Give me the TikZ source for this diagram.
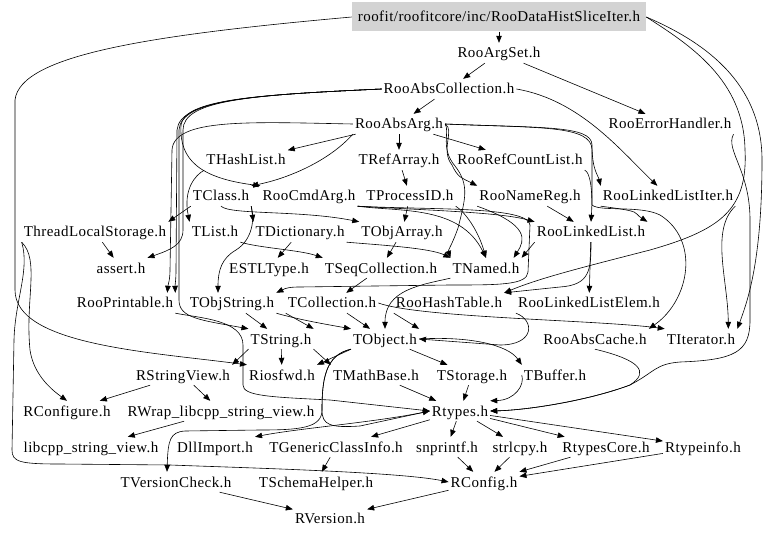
\documentclass[tikz,border=0pt]{standalone}
\usepackage{fontspec}
\setmainfont{Liberation Serif}[LetterSpace=3.0]
\usetikzlibrary{arrows.meta}
\definecolor{rootfill}{HTML}{D3D3D3}
\begin{document}
\begin{tikzpicture}[x=1pt,y=-1pt,
  lbl/.style={inner xsep=2pt, inner ysep=3pt, text height=12pt, text depth=2pt, font=\fontsize{15}{18}\selectfont},
  rootbox/.style={lbl, fill=rootfill, inner xsep=6pt, inner ysep=7.5pt},
  edg/.style={draw, line width=0.6pt, -{Triangle[length=7pt,width=5.5pt]}}]
\useasboundingbox (0,0) rectangle (768,537);
\fill[white] (0,0) rectangle (768,537);
% nodes
\node[rootbox] (root) at (499,17) {roofit/roofitcore/inc/RooDataHistSliceIter.h};
\node[lbl] (argset) at (499,53) {RooArgSet.h};
\node[lbl] (abscoll) at (449,89) {RooAbsCollection.h};
\node[lbl] (absarg) at (399,124) {RooAbsArg.h};
\node[lbl] (errh) at (670,124) {RooErrorHandler.h};
\node[lbl] (hashlist) at (246,160) {THashList.h};
\node[lbl] (refarray) at (399,160) {TRefArray.h};
\node[lbl] (refcount) at (520,160) {RooRefCountList.h};
\node[lbl] (tclass) at (221,196) {TClass.h};
\node[lbl] (cmdarg) at (309,196) {RooCmdArg.h};
\node[lbl] (procid) at (410,196) {TProcessID.h};
\node[lbl] (namereg) at (530,196) {RooNameReg.h};
\node[lbl] (llistiter) at (668,196) {RooLinkedListIter.h};
\node[lbl] (tls) at (95,232) {ThreadLocalStorage.h};
\node[lbl] (tlist) at (215,232) {TList.h};
\node[lbl] (tdict) at (300,232) {TDictionary.h};
\node[lbl] (objarray) at (402,232) {TObjArray.h};
\node[lbl] (llist) at (591,232) {RooLinkedList.h};
\node[lbl] (assert) at (121,268) {assert.h};
\node[lbl] (estl) at (269,268) {ESTLType.h};
\node[lbl] (seqcoll) at (381,268) {TSeqCollection.h};
\node[lbl] (tnamed) at (486,268) {TNamed.h};
\node[lbl] (printable) at (125,303) {RooPrintable.h};
\node[lbl] (objstring) at (232,303) {TObjString.h};
\node[lbl] (tcoll) at (332,303) {TCollection.h};
\node[lbl] (hashtable) at (449,303) {RooHashTable.h};
\node[lbl] (llelem) at (589,303) {RooLinkedListElem.h};
\node[lbl] (tstring) at (281,339) {TString.h};
\node[lbl] (tobject) at (385,339) {TObject.h};
\node[lbl] (abscache) at (595,339) {RooAbsCache.h};
\node[lbl] (titer) at (701,339) {TIterator.h};
\node[lbl] (rsv) at (183,375) {RStringView.h};
\node[lbl] (riosfwd) at (282,375) {Riosfwd.h};
\node[lbl] (mathbase) at (376,375) {TMathBase.h};
\node[lbl] (storage) at (472,375) {TStorage.h};
\node[lbl] (buffer) at (555,375) {TBuffer.h};
\node[lbl] (rconfigure) at (67,411) {RConfigure.h};
\node[lbl] (rwrap) at (221,411) {RWrap\_libcpp\_string\_view.h};
\node[lbl] (rtypes) at (460,411) {Rtypes.h};
\node[lbl] (libcpp) at (91,447) {libcpp\_string\_view.h};
\node[lbl] (dllimport) at (215,447) {DllImport.h};
\node[lbl] (genclass) at (336,447) {TGenericClassInfo.h};
\node[lbl] (snprintf) at (447,447) {snprintf.h};
\node[lbl] (strlcpy) at (520,447) {strlcpy.h};
\node[lbl] (rtypescore) at (606,447) {RtypesCore.h};
\node[lbl] (rtypeinfo) at (703,447) {Rtypeinfo.h};
\node[lbl] (vcheck) at (176,482) {TVersionCheck.h};
\node[lbl] (schema) at (316,482) {TSchemaHelper.h};
\node[lbl] (rconfig) at (484,482) {RConfig.h};
\node[lbl] (rversion) at (330,518) {RVersion.h};
% edges
\draw[edg] (root) -- (argset);
\draw[edg] (root.east) .. controls (700,40) and (762,80) .. (762,160) .. controls (762,260) and (748,300) .. (titer.north east);
\draw[edg] (root.west) .. controls (150,35) and (20,55) .. (15,100) -- (15,290) .. controls (15,345) and (150,352) .. (riosfwd.north west);
\draw[edg] (root.east) .. controls (690,45) and (744,80) .. (745,150) .. controls (748,210) and (720,230) .. (650,250) .. controls (580,268) and (540,278) .. (hashtable.north east);
\draw[edg] (argset) -- (abscoll);
\draw[edg] (argset) -- (errh);
\draw[edg] (abscoll) -- (absarg);
\draw[edg] (abscoll.east) .. controls (580,100) and (620,150) .. (llistiter);
\draw[edg] (abscoll.west) .. controls (250,95) and (185,100) .. (181,125) .. controls (179,160) and (200,178) .. (cmdarg.north west);
\draw[edg] (abscoll.west) .. controls (250,95) and (180,100) .. (177,130) -- (176,270) .. controls (176,280) and (175,285) .. (printable.north east);
\draw[edg] (abscoll.west) .. controls (250,95) and (181,100) .. (179,130) -- (179,300) .. controls (179,318) and (200,320) .. (tstring.north west);
\draw[edg] (abscoll.west) .. controls (250,95) and (183,100) .. (183,130) -- (183,230) .. controls (183,245) and (170,250) .. (assert.north east);
\draw[edg] (absarg) -- (hashlist);
\draw[edg] (absarg) -- (refarray);
\draw[edg] (absarg) -- (refcount);
\draw[edg] (absarg.south west) .. controls (330,160) and (290,178) .. (tclass.north east);
\draw[edg] (absarg.east) .. controls (455,130) and (440,150) .. (452,165) .. controls (458,178) and (462,178) .. (namereg.north west);
\draw[edg] (absarg.east) .. controls (540,128) and (592,125) .. (592,145) .. controls (592,170) and (598,175) .. (llistiter.north west);
\draw[edg] (absarg.east) .. controls (540,128) and (592,125) .. (592,150) -- (592,205) .. controls (600,212) and (640,205) .. (660,215) .. controls (700,240) and (690,300) .. (abscache.north east);
\draw[edg] (absarg.west) .. controls (250,122) and (174,118) .. (172,150) -- (170,270) .. controls (170,280) and (168,285) .. ([xshift=-8pt]printable.north east);
\draw[edg] (absarg.east) .. controls (450,132) and (440,148) .. (455,166) .. controls (470,185) and (465,200) .. (458,228) .. controls (452,245) and (448,250) .. (tnamed.north west);
\draw[edg] (refcount.south east) .. controls (590,172) and (593,190) .. (llist.north);
\draw[edg] (llistiter.south west) .. controls (645,212) and (632,212) .. (llist.north east);
\draw[edg] (refarray) -- (procid);
\draw[edg] (procid) -- (objarray);
\draw[edg] (procid.south east) .. controls (465,212) and (478,230) .. (tnamed.north);
\draw[edg] (cmdarg.south east) .. controls (400,212) and (460,205) .. (tnamed.north);
\draw[edg] (cmdarg.south east) .. controls (420,210) and (500,212) .. (llist.north west);
\draw[edg] (cmdarg.south east) .. controls (430,210) and (528,206) .. (530,225) -- (528,272) .. controls (527,285) and (500,285) .. (450,285) -- (300,287) .. controls (290,287) and (286,288) .. (objstring.north east);
\draw[edg] (namereg.south west) .. controls (530,225) and (525,240) .. ([xshift=-8pt]tnamed.north east);
\draw[edg] (namereg) -- (llist);
\draw[edg] (llist.south west) -- (tnamed.north east);
\draw[edg] (llist) -- (llelem);
\draw[edg] (llist.south) .. controls (591,270) and (590,285) .. (560,287) -- (hashtable.north east);
\draw[edg] (errh.south east) .. controls (725,150) and (750,170) .. (750,220) -- (750,320) .. controls (750,352) and (735,360) .. (680,362) .. controls (655,364) and (655,372) .. (630,385) .. controls (590,400) and (530,410) .. (rtypes.east);
\draw[edg] (abscache.south) .. controls (640,360) and (650,372) .. (630,385) .. controls (590,400) and (530,410) .. (rtypes.east);
\draw[edg] (llistiter.south east) .. controls (710,230) and (728,280) .. ([xshift=-9pt]titer.north east);
\draw[edg] (tcoll.east) .. controls (420,318) and (600,320) .. (titer.north west);
\draw[edg] (tls.south west) .. controls (40,260) and (25,300) .. (30,350) .. controls (33,370) and (45,385) .. (rconfigure.north);
\draw[edg] (tls.south west) .. controls (30,270) and (15,300) .. (14,340) -- (12,450) .. controls (12,462) and (20,464) .. (60,464) -- (170,465) .. controls (250,468) and (400,472) .. (rconfig.west);
\draw[edg] (tls) -- (assert);
\draw[edg] (tclass.south west) -- (tls.north east);
\draw[edg] (tclass.south east) -- (tdict.north west);
\draw[edg] (tclass.south) .. controls (230,215) and (300,210) .. (objarray.north west);
\draw[edg] (tclass.south east) .. controls (255,220) and (252,240) .. (236,250) .. controls (222,258) and (218,270) .. ([xshift=-14pt]objstring.north);
\draw[edg] (hashlist.south west) .. controls (195,175) and (183,190) .. (tlist.north west);
\draw[edg] (tlist.south east) .. controls (260,248) and (300,250) .. (seqcoll.north west);
\draw[edg] (tdict) -- (estl);
\draw[edg] (tdict.south east) .. controls (380,245) and (430,248) .. (tnamed.north west);
\draw[edg] (objarray) -- (seqcoll);
\draw[edg] (seqcoll) -- (tcoll);
\draw[edg] (objstring) -- (tstring);
\draw[edg] (objstring.south east) .. controls (300,320) and (330,325) .. (tobject.north west);
\draw[edg] (tcoll.south west) -- (tstring.north east);
\draw[edg] (tcoll) -- (tobject);
\draw[edg] (tnamed.south west) .. controls (420,285) and (385,290) .. (tobject.north);
\draw[edg] (hashtable.south west) -- (tobject.north east);
\draw[edg] (llelem.south west) .. controls (535,320) and (535,345) .. (500,345) -- (tobject.east);
\draw[edg] (tobject.east) .. controls (470,336) and (508,345) .. (buffer.north west);
\draw[edg] (buffer.west) .. controls (525,385) and (515,400) .. (rtypes.north east);
\draw[edg] (tobject) -- (storage);
\draw[edg] (tobject.south west) -- (riosfwd.north east);
\draw[edg] (tobject.south west) .. controls (325,355) and (322,380) .. (322,410) .. controls (322,425) and (330,428) .. (360,426) -- (rtypes.west);
\draw[edg] (tobject.south west) .. controls (325,355) and (322,380) .. (322,410) .. controls (322,428) and (300,430) .. (260,430) -- (185,431) .. controls (170,432) and (168,440) .. ([xshift=-9pt]vcheck.north);
\draw[edg] (tstring.south west) -- (rsv.north east);
\draw[edg] (tstring) -- (riosfwd);
\draw[edg] (tstring.south east) -- (mathbase.north west);
\draw[edg] (printable.south east) .. controls (200,318) and (243,320) .. (243,345) -- (243,385) .. controls (243,396) and (270,397) .. (330,400) -- (rtypes.west);
\draw[edg] (mathbase) -- (rtypes);
\draw[edg] (storage) -- (rtypes);
\draw[edg] (rsv) -- (rconfigure);
\draw[edg] (rsv) -- (rwrap);
\draw[edg] (rwrap) -- (libcpp);
\draw[edg] (rtypes.west) .. controls (380,422) and (300,428) .. (dllimport.north east);
\draw[edg] (rtypes) -- (genclass);
\draw[edg] (rtypes) -- (snprintf);
\draw[edg] (rtypes) -- (strlcpy);
\draw[edg] (rtypes) -- (rtypescore);
\draw[edg] (rtypes) -- (rtypeinfo);
\draw[edg] (genclass) -- (schema);
\draw[edg] (snprintf) -- (rconfig);
\draw[edg] (strlcpy) -- (rconfig);
\draw[edg] (rtypescore) -- (rconfig);
\draw[edg] (rtypeinfo) -- (rconfig);
\draw[edg] (rconfig) -- (rversion);
\draw[edg] (vcheck) -- (rversion);
\end{tikzpicture}
\end{document}
